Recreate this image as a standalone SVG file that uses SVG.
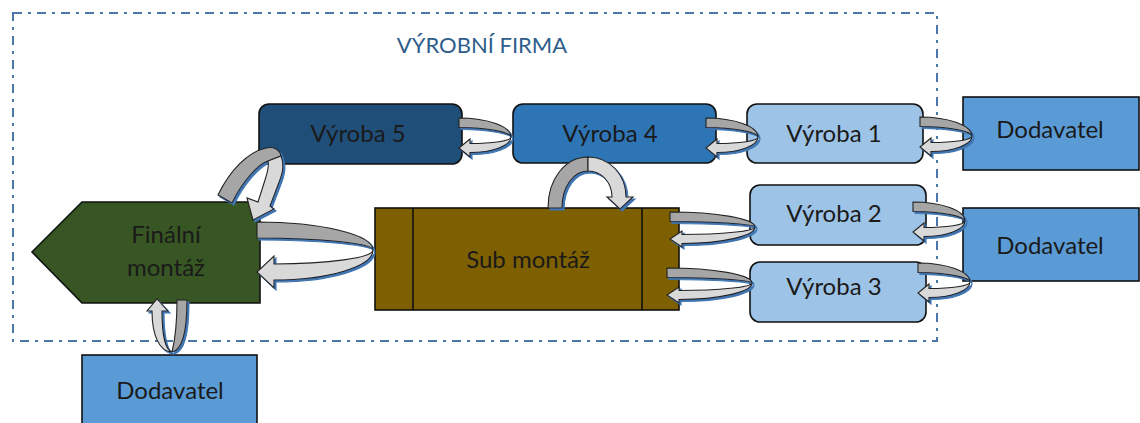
<svg xmlns="http://www.w3.org/2000/svg" xmlns:xlink="http://www.w3.org/1999/xlink" width="1140" height="423" viewBox="0 0 1140 423">
<style>
.lbl{font-family:Lato,"Liberation Sans",sans-serif;font-size:24px;fill:#1a1a1a;text-anchor:middle}
.title{font-family:Lato,"Liberation Sans",sans-serif;font-size:22px;fill:#2f5d8c;text-anchor:middle}
.node{stroke:#111;stroke-width:1.6}
.dk{fill:#a6a6a6;stroke:#222;stroke-width:1.1}
.lt{fill:#d9d9d9;stroke:#222;stroke-width:1.1}
</style>
<defs>
<filter id="sh" x="-10%" y="-10%" width="130%" height="130%">
<feOffset in="SourceAlpha" dx="1.5" dy="2" result="o"/>
<feFlood flood-color="#3f74b0"/>
<feComposite in2="o" operator="in" result="s"/>
<feMerge><feMergeNode in="s"/><feMergeNode in="SourceGraphic"/></feMerge>
</filter>
<g id="ua">
<path class="dk" d="M0,0 C28.6,0 52,8.5 52,19 C52,14.5 28.6,9.5 0,9.5 Z"/>
<path class="lt" d="M52,19 C52,27.5 33.6,34.5 11,34.5 L11,39 L0,30 L11,21 L11,25.5 C33.6,25.5 52,23 52,19 Z"/>
</g>
<g id="ub">
<path class="dk" d="M0,0 C46.75,0 85,6.75 85,15 C85,12.2 46.75,9.5 0,9.5 Z"/>
<path class="lt" d="M85,15 C85,24 52.15,31.5 12,31.5 L12,35 L0,27 L12,19 L12,22.5 C52.15,22.5 85,19.2 85,15 Z"/>
</g>
</defs>
<rect x="0" y="0" width="1140" height="423" fill="#fff"/>

<g id="border">
<rect x="13" y="13" width="924" height="328" fill="none" stroke="#4a76a8" stroke-width="2" stroke-dasharray="9,6,3,6"/>
<text class="title" x="482" y="53">VÝROBNÍ FIRMA</text>
</g>

<g id="vyroba5">
<rect class="node" x="259" y="104" width="203" height="60" rx="10" fill="#1f4e79"/>
<text class="lbl" x="358" y="142">Výroba 5</text>
</g>
<g id="vyroba4">
<rect class="node" x="513" y="104" width="203" height="59" rx="10" fill="#2e75b6"/>
<text class="lbl" x="610" y="142">Výroba 4</text>
</g>
<g id="vyroba1">
<rect class="node" x="747" y="104" width="176" height="59" rx="10" fill="#9dc3e6"/>
<text class="lbl" x="834" y="142">Výroba 1</text>
</g>
<g id="vyroba2">
<rect class="node" x="750" y="185" width="176" height="60" rx="10" fill="#9dc3e6"/>
<text class="lbl" x="834" y="222">Výroba 2</text>
</g>
<g id="vyroba3">
<rect class="node" x="750" y="262" width="176" height="60" rx="10" fill="#9dc3e6"/>
<text class="lbl" x="834" y="295">Výroba 3</text>
</g>
<g id="dodavatel1">
<rect class="node" x="963" y="97" width="176" height="73" fill="#5b9bd5"/>
<text class="lbl" x="1050" y="138">Dodavatel</text>
</g>
<g id="dodavatel2">
<rect class="node" x="963" y="208" width="176" height="73" fill="#5b9bd5"/>
<text class="lbl" x="1050" y="254">Dodavatel</text>
</g>
<g id="dodavatel3">
<rect class="node" x="82" y="355" width="175" height="75" fill="#5b9bd5"/>
<text class="lbl" x="170" y="399">Dodavatel</text>
</g>
<g id="finalni">
<polygon class="node" points="32,252 82,202 260,202 260,303 82,303" fill="#375623"/>
<text class="lbl" x="166" y="243">Finální</text>
<text class="lbl" x="166" y="276">montáž</text>
</g>
<g id="submontaz">
<rect class="node" x="375" y="208" width="304" height="102" fill="#7f6000"/>
<line class="node" x1="413" y1="208" x2="413" y2="310"/>
<line class="node" x1="642" y1="208" x2="642" y2="310"/>
<text class="lbl" x="528" y="268">Sub montáž</text>
</g>

<g id="connectors" filter="url(#sh)">
<use href="#ua" transform="translate(459,118)"/>
<use href="#ua" transform="translate(706,118)"/>
<use href="#ua" transform="translate(920,117)"/>
<use href="#ua" transform="translate(913,202)"/>
<use href="#ua" transform="translate(918,263)"/>
<use href="#ub" transform="translate(670,212)"/>
<use href="#ub" transform="translate(667,268)"/>
<g>
<path class="dk" d="M257,222 C320.8,222 373,234.6 373,250 C373,243.4 320.8,238 257,238 Z"/>
<path class="lt" d="M373,250 C373,266.5 328.45,280 274,280 L274,288 L257,272 L274,256 L274,264 C328.45,264 373,257.7 373,250 Z"/>
</g>
<g>
<path class="dk" d="M548,208 C548,178 566,157 588,157 L588,171 C574,171 562,186 562,208 Z"/>
<path class="lt" d="M588,157 C610,157 626,175 626,197 L633,197 L620,209 L607,197 L612,197 C612,183 602,171 588,171 Z"/>
</g>
<g>
<path class="dk" d="M218,195 C230,170 248,152 266,148 C274,146 280,150 281,156 L268,161 C258,164 242,182 232,203 Z"/>
<path class="lt" d="M281,156 C285,166 282,175 278,185 L270,206 L274,209 L253,220 L247,198 L258,202 L265,180 C268,171 269,165 268,161 Z"/>
</g>
<g>
<path class="dk" d="M177,300 L187,300 C187,330 183,350 172,352 C175,340 177,322 177,300 Z"/>
<path class="lt" d="M172,352 C165,350 162,332 162,311 L168,311 L157,299 L147,311 L152,311 C152,336 160,352 172,352 Z"/>
</g>
</g>
</svg>
